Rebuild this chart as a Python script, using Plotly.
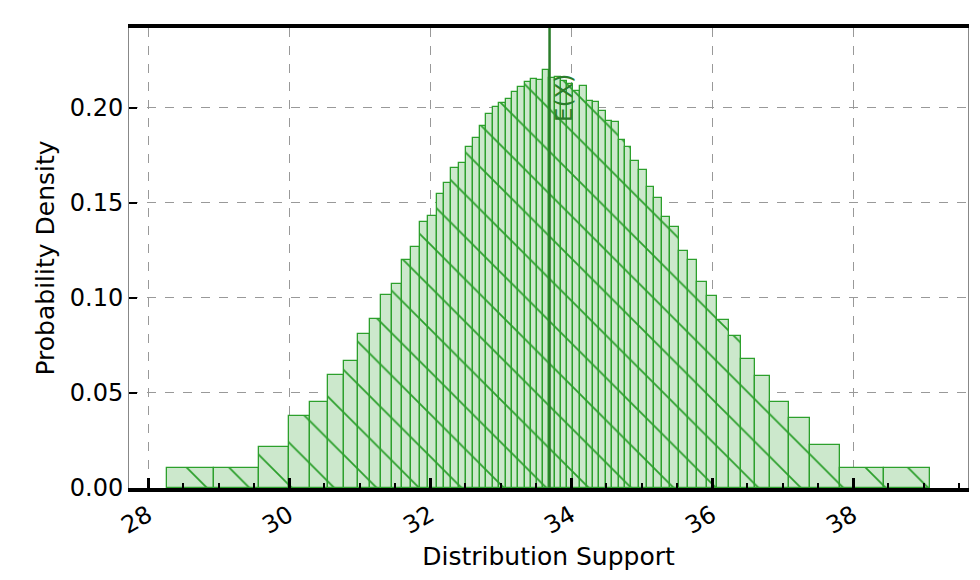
import plotly.graph_objects as go

# bin edges (distribution support) and density heights
bin_edges = [28.274, 28.932, 29.574, 30.000, 30.302, 30.557, 30.784, 30.983, 31.153, 31.309,
             31.465, 31.607, 31.735, 31.862, 31.976, 32.104, 32.199, 32.302, 32.411, 32.515,
             32.614, 32.713, 32.799, 32.894, 32.983, 33.082, 33.167, 33.248, 33.343, 33.437,
             33.522, 33.607, 33.688,
             33.769, 33.862, 33.948, 34.028, 34.123, 34.220, 34.308, 34.397, 34.492, 34.582,
             34.677, 34.762, 34.855, 34.960, 35.074, 35.173, 35.287, 35.400, 35.528, 35.655,
             35.783, 35.925, 36.067, 36.237, 36.407, 36.606, 36.827, 37.088, 37.394, 37.811,
             38.440, 39.096]
density = [0.0105, 0.0105, 0.0214, 0.0379, 0.0451, 0.0593, 0.0668, 0.0809, 0.0888, 0.1016,
           0.1072, 0.1200, 0.1267, 0.1398, 0.1430, 0.1547, 0.1604, 0.1684, 0.1709, 0.1793,
           0.1840, 0.1903, 0.1967, 0.2005, 0.2025, 0.2047, 0.2084, 0.2112, 0.2135, 0.2151,
           0.2144, 0.2198,
           0.2155, 0.2160, 0.2140, 0.2123, 0.2090, 0.2114, 0.2035, 0.2030, 0.1983, 0.1930,
           0.1926, 0.1832, 0.1793, 0.1720, 0.1672, 0.1582, 0.1528, 0.1425, 0.1372, 0.1247,
           0.1202, 0.1083, 0.1012, 0.0884, 0.0798, 0.0679, 0.0588, 0.0451, 0.0370, 0.0225,
           0.0104, 0.0104]
mean_x = 33.695
x_ticks = [28, 30, 32, 34, 36, 38]
y_ticks = [0.0, 0.05, 0.10, 0.15, 0.20]

centers = [(a + b) / 2 for a, b in zip(bin_edges[:-1], bin_edges[1:])]
widths = [b - a for a, b in zip(bin_edges[:-1], bin_edges[1:])]

fig = go.Figure()
fig.add_trace(go.Bar(
    x=centers, y=density, width=widths,
    marker=dict(color="#cce8cc",
                line=dict(color="#2ca02c", width=1.3),
                pattern=dict(shape="\\", fgcolor="#2ca02c", bgcolor="#cce8cc",
                             fgopacity=1, size=30, solidity=0.06)),
    showlegend=False,
))

fig.add_vline(x=mean_x, line=dict(color="#2a7d2a", width=2.5))
fig.add_annotation(x=mean_x, y=0.205, text="E(X)", textangle=-90, showarrow=False,
                   xshift=15, font=dict(size=23, color="#2a7d2a"))

fig.update_layout(
    width=980, height=580,
    margin=dict(l=121, r=20, t=20, b=100),
    plot_bgcolor="white", paper_bgcolor="white",
    bargap=0,
    font=dict(family="DejaVu Sans", size=24, color="black"),
)
fig.update_xaxes(
    range=[27.73, 39.63], tickvals=x_ticks, tickangle=-30, automargin=False,
    showline=True, linecolor="black", linewidth=4, mirror=True,
    ticks="inside", ticklen=10, tickwidth=2.5, tickcolor="black",
    minor=dict(ticks="inside", ticklen=5, tickwidth=1.5, dtick=0.5, tickcolor="black"),
    showgrid=True, gridcolor="#999999", griddash="dash", gridwidth=1,
    zeroline=False,
    title=dict(text="Distribution Support", font=dict(size=25), standoff=10),
    tickfont=dict(size=24),
)
fig.update_yaxes(
    range=[0, 0.242], tickvals=y_ticks, tickformat=".2f", automargin=False,
    showline=True, linecolor="#888888", linewidth=1, mirror=True,
    ticks="inside", ticklen=8, tickwidth=1.5, tickcolor="black",
    showgrid=True, gridcolor="#999999", griddash="dash", gridwidth=1,
    zeroline=False,
    title=dict(text="Probability Density", font=dict(size=25), standoff=8),
    tickfont=dict(size=24),
)

fig.write_html("out.html")
